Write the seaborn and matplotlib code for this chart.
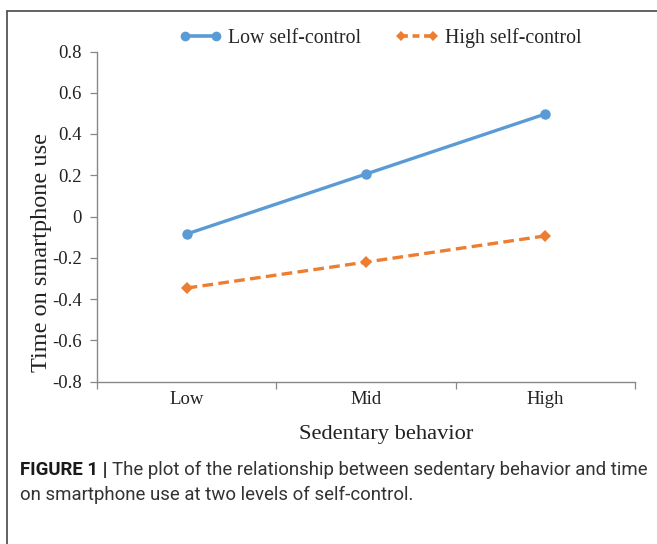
import matplotlib
matplotlib.use("Agg")
import matplotlib.pyplot as plt
from matplotlib.lines import Line2D
from matplotlib.ticker import FixedLocator
import seaborn as sns
import pandas as pd

# ---- data ----
categories = ["Low", "Mid", "High"]
low_self_control = [-0.085, 0.206, 0.497]
high_self_control = [-0.347, -0.221, -0.094]
series_names = ["Low self-control", "High self-control"]
y_ticks = [-0.8, -0.6, -0.4, -0.2, 0.0, 0.2, 0.4, 0.6, 0.8]
y_tick_labels = ["-0.8", "-0.6", "-0.4", "-0.2", "0", "0.2", "0.4", "0.6", "0.8"]
x_label = "Sedentary behavior"
y_label = "Time on smartphone use"
caption_bold = "FIGURE 1 | "
caption_line1 = "The plot of the relationship between sedentary behavior and time"
caption_line2 = "on smartphone use at two levels of self-control."

df = pd.DataFrame({
    "Sedentary": categories * 2,
    "value": low_self_control + high_self_control,
    "group": [series_names[0]] * 3 + [series_names[1]] * 3,
})

sns.set_theme(style="white")
plt.rcParams["font.family"] = ["Liberation Serif", "DejaVu Serif"]

W, H = 657, 544
fig = plt.figure(figsize=(W / 100, H / 100), dpi=100)
ax = fig.add_axes([97 / W, 1 - 381.5 / H, (635 - 97) / W, (381.5 - 51.5) / H])

palette = {series_names[0]: "#5B9BD5", series_names[1]: "#ED7D31"}
sns.lineplot(data=df, x="Sedentary", y="value", hue="group", style="group",
             hue_order=series_names, style_order=series_names,
             palette=palette, markers={series_names[0]: "o", series_names[1]: "D"},
             dashes={series_names[0]: "", series_names[1]: (3.2, 1.6)},
             linewidth=2.4, markeredgewidth=0, ax=ax, sort=False)
for ln in ax.lines:
    if ln.get_marker() == "o":
        ln.set_markersize(7.5)
    elif ln.get_marker() == "D":
        ln.set_markersize(6.2)

ax.set_xlim(-0.5, len(categories) - 0.5)
ax.set_ylim(-0.8, 0.8)
ax.set_xticks(range(len(categories)))
ax.set_xticklabels(categories, fontsize=13.5)
ax.xaxis.set_minor_locator(FixedLocator([i - 0.5 for i in range(len(categories) + 1)]))
ax.tick_params(axis="x", which="major", length=0, pad=7)
ax.tick_params(axis="x", which="minor", bottom=True, length=5, width=0.9, direction="out")
ax.set_yticks(y_ticks)
ax.set_yticklabels(y_tick_labels, fontsize=13.5)
ax.tick_params(axis="y", left=True, length=5, width=0.9, direction="out", pad=6)
ax.tick_params(axis="both", which="both", color="#888888", labelcolor="#222222")

for s in ["top", "right"]:
    ax.spines[s].set_visible(False)
for s in ["left", "bottom"]:
    ax.spines[s].set_color("#888888")
    ax.spines[s].set_linewidth(1.0)

ax.set_xlabel(x_label, fontsize=16.2, color="#222222", va="center")
ax.xaxis.set_label_coords((386 - 97) / 538, -(434 - 381.5) / 330)
ax.set_ylabel(y_label, fontsize=17.5, color="#222222", va="center")
ax.yaxis.set_label_coords((41 - 97) / 538, (381.5 - 252) / 330)

sns.move_legend(ax, "center", bbox_to_anchor=(380 / W, 1 - 38 / H),
                bbox_transform=fig.transFigure, ncol=2, frameon=False, title=None,
                fontsize=14.3, handlelength=2.2, columnspacing=1.7, handletextpad=0.3,
                numpoints=2)
for h in ax.get_legend().legend_handles:
    h.set_linewidth(2.6)
    if h.get_marker() == "o":
        h.set_markersize(7)
    elif h.get_marker() == "D":
        h.set_markersize(5.2)
        h.set_dashes((1.9, 1.3))

# outer frame (left and top edges)
frame_c = "#555555"
fig.add_artist(Line2D([7 / W, 7 / W], [0, 1 - 11 / H], transform=fig.transFigure, color=frame_c, lw=1.3))
fig.add_artist(Line2D([7 / W, 1], [1 - 11 / H, 1 - 11 / H], transform=fig.transFigure, color=frame_c, lw=1.3))

# caption
cap_font = ["Roboto", "Liberation Sans", "DejaVu Sans"]
renderer = fig.canvas.get_renderer()
fs = 12.0
x0 = 20 / W
t_bold = fig.text(x0, 1 - 470 / H, caption_bold, fontsize=fs, fontweight="bold", family=cap_font,
                  va="center", ha="left", color="#1a1a1a")
bb = t_bold.get_window_extent(renderer)
t1 = fig.text(bb.x1 / W, 1 - 470 / H, caption_line1, fontsize=fs, family=cap_font,
              va="center", ha="left", color="#333333")
# fit width of first caption line to reference (~648 px)
bb1 = t1.get_window_extent(renderer)
scale = (648 - 20) / (bb1.x1 - bb.x0)
fs2 = fs * scale
t_bold.set_fontsize(fs2)
bb = t_bold.get_window_extent(renderer)
t1.set_fontsize(fs2)
t1.set_x(bb.x1 / W)
fig.text(x0, 1 - 495 / H, caption_line2, fontsize=fs2, family=cap_font,
         va="center", ha="left", color="#333333")

fig.savefig("out.png", dpi=100)
